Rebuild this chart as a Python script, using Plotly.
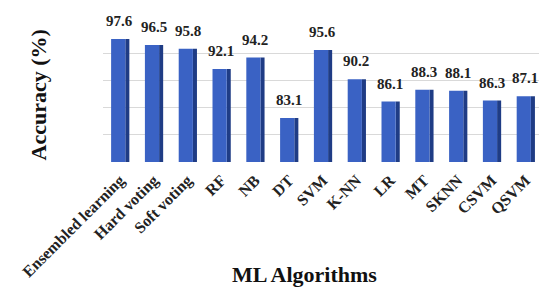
import plotly.graph_objects as go

categories = ["Ensembled learning", "Hard voting", "Soft voting", "RF", "NB", "DT",
              "SVM", "K-NN", "LR", "MT", "SKNN", "CSVM", "QSVM"]
accuracy = [97.6, 96.5, 95.8, 92.1, 94.2, 83.1, 95.6, 90.2, 86.1, 88.3, 88.1, 86.3, 87.1]
value_labels = ["97.6", "96.5", "95.8", "92.1", "94.2", "83.1", "95.6", "90.2",
                "86.1", "88.3", "88.1", "86.3", "87.1"]

font_serif = "Liberation Serif"

fig = go.Figure()
# side face (darker)
fig.add_trace(go.Bar(x=categories, y=accuracy, width=0.12, offset=0.16,
                     marker=dict(color="#1f3c85", line=dict(width=0)),
                     hoverinfo="skip", showlegend=False))
# front face
fig.add_trace(go.Bar(x=categories, y=accuracy, width=0.42, offset=-0.26,
                     marker=dict(color="#3a62c4", line=dict(width=0)),
                     showlegend=False))

for c, v, t in zip(categories, accuracy, value_labels):
    fig.add_annotation(x=c, y=v, text="<b>%s</b>" % t, showarrow=False,
                       yanchor="bottom", yshift=8, xshift=0,
                       font=dict(family=font_serif, size=15, color="#222"))

fig.add_annotation(text="<b>Accuracy (%)</b>", xref="paper", yref="paper",
                   x=-0.149, y=0.49, xanchor="center", yanchor="middle", textangle=-90,
                   showarrow=False, font=dict(family=font_serif, size=22, color="#111"))
fig.add_annotation(text="<b>ML Algorithms</b>", xref="paper", yref="paper",
                   x=0.463, y=-0.83, xanchor="center", yanchor="middle",
                   showarrow=False, font=dict(family=font_serif, size=22, color="#111"))

fig.update_layout(
    width=543, height=291,
    margin=dict(l=103, r=4, t=26, b=129),
    paper_bgcolor="white", plot_bgcolor="white",
    barmode="overlay",
    xaxis=dict(range=[-0.5, 12.4], tickangle=-45, showgrid=False, showline=False,
               automargin=False, ticks="", ticklabelstandoff=5,
               tickfont=dict(family=font_serif, size=16, color="#222"),
               tickprefix="<b>", ticksuffix="</b>"),
    yaxis=dict(range=[75, 100], dtick=5, showticklabels=False, showgrid=True,
               automargin=False,
               gridcolor="#d9d9d9", gridwidth=1, zeroline=False, showline=False),
)

fig.write_html("out.html", config={"displayModeBar": False},
               post_script="document.body.style.margin='0';document.body.style.overflow='hidden';")
